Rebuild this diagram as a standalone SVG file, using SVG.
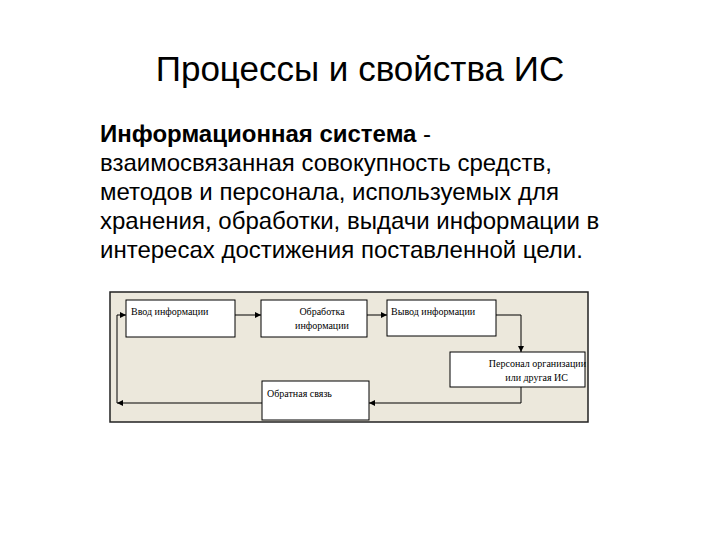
<svg xmlns="http://www.w3.org/2000/svg" width="720" height="540" viewBox="0 0 720 540">
<defs>
<style>
.t{font-family:"Liberation Sans",Arial,sans-serif;fill:#000}
.b{fill:#fff;stroke:#000;stroke-width:1}
.s{font-family:"Liberation Serif","Times New Roman",serif;font-size:10px;fill:#000}
.c{fill:none;stroke:#000;stroke-width:1;marker-end:url(#a)}
</style>
<marker id="a" viewBox="0 0 8 8" refX="8" refY="4" markerWidth="6" markerHeight="6" orient="auto"><path d="M0,0L8,4L0,8z" fill="#000"/></marker>
</defs>
<rect width="720" height="540" fill="#fff"/>
<text class="t" x="360" y="81" font-size="35" text-anchor="middle">Процессы и свойства ИС</text>
<g class="t" font-size="24">
<text x="100" y="142"><tspan font-weight="bold">Информационная система</tspan> -</text>
<text x="100" y="171">взаимосвязанная совокупность средств,</text>
<text x="100" y="200">методов и персонала, используемых для</text>
<text x="100" y="229">хранения, обработки, выдачи информации в</text>
<text x="100" y="258">интересах достижения поставленной цели.</text>
</g>
<rect x="110" y="292" width="478" height="130" fill="#ece8dc" stroke="#222" stroke-width="1.5"/>
<g id="n1"><rect class="b" x="126" y="300" width="109" height="37"/><text class="s" x="131" y="315">Ввод информации</text></g>
<g id="n2"><rect class="b" x="261" y="300" width="106" height="37"/><text class="s" x="322" y="315" text-anchor="middle">Обработка</text><text class="s" x="322" y="329" text-anchor="middle">информации</text></g>
<g id="n3"><rect class="b" x="387" y="300" width="109" height="36"/><text class="s" x="391" y="315">Вывод информации</text></g>
<g id="n4"><rect class="b" x="450" y="352" width="135" height="35"/><text class="s" x="586" y="367" text-anchor="end">Персонал организации</text><text class="s" x="568" y="381" text-anchor="end">или другая ИС</text></g>
<g id="n5"><rect class="b" x="262" y="381" width="107" height="39"/><text class="s" x="267" y="397">Обратная связь</text></g>
<g id="conn">
<path class="c" d="M235,315H261"/>
<path class="c" d="M367,315H387"/>
<path class="c" d="M496,315H521V352"/>
<path class="c" d="M521,387V403H369"/>
<path class="c" d="M262,403H117"/>
<path class="c" d="M117,403V315H126"/>
</g>
</svg>
